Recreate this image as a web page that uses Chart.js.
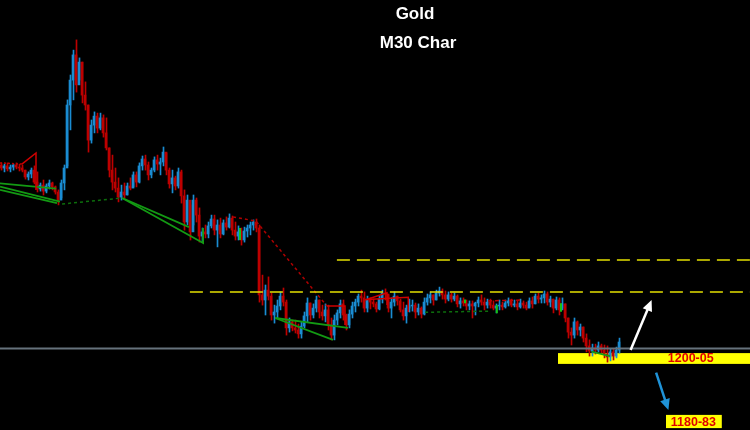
<!DOCTYPE html>
<html>
<head>
<meta charset="utf-8">
<title>Gold M30</title>
<script src="https://cdn.jsdelivr.net/npm/chart.js@4/dist/chart.umd.min.js"></script>
<style>
    html, body { margin: 0; padding: 0; background: #000; }
    #contenedor { width: 750px; height: 430px; position: relative; }
</style>
</head>
<body>
<div id="contenedor"><canvas id="grafica_oro"></canvas></div>
<script>
// Velas de 30 minutos del oro (USD). La apertura de cada vela es el cierre anterior.
var primeraApertura = 1265;
var maximos = [
    1265.7, 1265.3, 1265.7, 1265, 1265.3, 1265.7, 1265.3, 1265, 1263.3, 1262.7, 1264,
    1264.7, 1262.7, 1259, 1260, 1258.7, 1260, 1259.3, 1258, 1256.7, 1260,
    1265, 1286.7, 1295, 1303.3, 1306.7, 1300.7, 1299.3, 1292.7, 1285, 1280,
    1282.7, 1282.3, 1282.3, 1281.7, 1280.7, 1270.7, 1268.3, 1264, 1260.7, 1258.3,
    1259, 1259, 1260.7, 1262.7, 1262.7, 1265.7, 1268, 1268.3, 1266, 1264,
    1267.7, 1268.3, 1267.3, 1271, 1269, 1264, 1263.3, 1261.3, 1264, 1263.3,
    1256.7, 1255, 1251.7, 1255, 1254, 1250.7, 1244, 1245, 1246, 1248.3,
    1248.3, 1246.7, 1247.3, 1246.7, 1247.7, 1248.7, 1248, 1246, 1244.7, 1244,
    1244.3, 1245, 1246, 1246.7, 1247, 1245, 1228.3, 1225, 1227.7, 1222.3,
    1218.3, 1220, 1222.7, 1224, 1220, 1214, 1213.3, 1213.3, 1212, 1212.7,
    1216, 1220.7, 1219, 1218.7, 1221.3, 1220, 1218.3, 1218.7, 1218.3, 1214,
    1215, 1216.7, 1220, 1220, 1215.3, 1216.7, 1219.3, 1220.3, 1222, 1223.3,
    1222.7, 1221.3, 1220.7, 1220.3, 1219.3, 1221.3, 1223.3, 1223.7, 1221.7, 1220.7,
    1222.7, 1221.3, 1220.3, 1219.3, 1218.3, 1220.3, 1220, 1219, 1218.7, 1217.7,
    1220.7, 1222, 1222.7, 1221.7, 1223.3, 1224.3, 1223.7, 1223, 1222.7, 1222.3,
    1222.3, 1221.7, 1220.7, 1220.7, 1220, 1219.7, 1219.7, 1219.3, 1221, 1221.7,
    1220.7, 1220.3, 1220.3, 1219.7, 1218.7, 1220, 1219.3, 1220, 1220.7, 1220.3,
    1220, 1219.7, 1220.3, 1219.7, 1219.3, 1220.7, 1221, 1222, 1222.3, 1221.7,
    1223, 1222.7, 1221.3, 1220.3, 1221, 1220.7, 1220.7, 1218.7, 1214, 1210.7,
    1214, 1213, 1212, 1211, 1208.7, 1206.7, 1205.3, 1205.3, 1206, 1205.3,
    1205, 1204.7, 1203.7, 1203.7, 1204.3, 1207.3
];
var minimos = [
    1263.3, 1262.7, 1263, 1262.7, 1263.3, 1263.7, 1263, 1262.7, 1260.3, 1260, 1260.7,
    1258.7, 1256, 1256.3, 1255, 1255.7, 1257, 1256.7, 1255.3, 1251.7, 1254,
    1256.7, 1264.7, 1276.7, 1286.7, 1289.3, 1293.3, 1285.7, 1283.3, 1269.3, 1272.3,
    1275.7, 1275.7, 1276.7, 1274.3, 1270, 1261, 1256.7, 1256, 1252.7, 1253.3,
    1254, 1255, 1256.7, 1257.7, 1257.7, 1259, 1263.3, 1263.3, 1260, 1260.7,
    1262.7, 1263.3, 1261.7, 1264.7, 1261.7, 1257.3, 1255.7, 1256.7, 1257.3, 1252.3,
    1243.3, 1245, 1240, 1245, 1246, 1239.3, 1239.3, 1240.7, 1240.7, 1244,
    1241.7, 1237.7, 1240.7, 1241.7, 1243.3, 1244, 1241.7, 1240, 1240, 1238.3,
    1239.3, 1241, 1241.7, 1243.3, 1242.7, 1219.3, 1218.3, 1215, 1220, 1213.3,
    1212.3, 1214, 1216.7, 1218, 1208.3, 1209.3, 1209.7, 1209, 1207.3, 1207.3,
    1210.7, 1212.7, 1213.3, 1214, 1216, 1214, 1213.3, 1212.7, 1210, 1206.7,
    1206.7, 1211.7, 1214, 1213.3, 1210, 1210.7, 1214, 1216, 1218, 1219.3,
    1216, 1216, 1217, 1217.7, 1216, 1216.7, 1219, 1220, 1216, 1214,
    1218, 1218.3, 1216, 1213.3, 1212.3, 1216, 1216.3, 1214, 1215, 1214,
    1215, 1218.3, 1219, 1218.3, 1220, 1221.3, 1220.3, 1219, 1219.7, 1219.3,
    1219.7, 1217.7, 1217.3, 1218, 1216.7, 1216.7, 1214, 1215, 1217.7, 1218.3,
    1216.7, 1217.3, 1217.3, 1216.7, 1215.7, 1216.7, 1216.7, 1217.3, 1218, 1217.7,
    1217.7, 1216.7, 1217.3, 1217.3, 1216.7, 1217.7, 1217.3, 1218.7, 1219, 1219,
    1219, 1218.3, 1217.7, 1215.7, 1216.7, 1215, 1217.3, 1212.7, 1207.3, 1205,
    1207.3, 1208.3, 1208, 1206, 1202.7, 1201.3, 1201.3, 1202, 1202.7, 1202.3,
    1200.7, 1199.3, 1199.7, 1200, 1200.7, 1202.3
];
var cierres = [
    1264, 1264.7, 1263.7, 1264.3, 1265, 1264.3, 1264, 1263.3, 1261, 1262, 1263.3,
    1259.3, 1257, 1258.3, 1256.3, 1258, 1259, 1257.7, 1256, 1253.3, 1259,
    1264, 1285, 1293.3, 1301.7, 1291.7, 1299.3, 1288.3, 1285, 1273.3, 1278.3,
    1281.3, 1277.3, 1280.7, 1275.7, 1270.7, 1263.3, 1259.3, 1257.3, 1254.3, 1256,
    1255, 1258, 1257.3, 1261.7, 1259.3, 1264.7, 1267, 1265, 1261.7, 1263.3,
    1266.7, 1265.3, 1266, 1269.3, 1263.3, 1258.7, 1260.7, 1258, 1262.7, 1254.7,
    1246, 1253.3, 1242.7, 1253.3, 1248.3, 1241.3, 1242.7, 1242, 1244.7, 1247,
    1243.3, 1245, 1242, 1245.7, 1244.3, 1247.3, 1243.3, 1241.3, 1242.7, 1240,
    1243, 1244, 1245, 1246, 1244, 1221.7, 1220, 1223.3, 1221.3, 1215,
    1216, 1218, 1221.3, 1219.3, 1210.7, 1212.7, 1210.7, 1210, 1208.7, 1211.3,
    1214.7, 1219, 1215, 1217.3, 1220, 1216, 1214.7, 1216.7, 1211.7, 1208.3,
    1213.3, 1215.7, 1218.7, 1215, 1211.7, 1215.3, 1218, 1219.3, 1221.3, 1220.7,
    1217.3, 1220, 1219.3, 1218.7, 1217, 1220.3, 1222.3, 1222, 1217.3, 1219.3,
    1221.3, 1219.7, 1216.7, 1214.7, 1217.3, 1218, 1218.3, 1216, 1217.3, 1215.3,
    1219.3, 1220.7, 1221.7, 1220, 1222.3, 1223, 1221.7, 1220.3, 1221.7, 1220.3,
    1221.3, 1218.7, 1219.7, 1219, 1218, 1218.7, 1218, 1219, 1220, 1219.3,
    1218.3, 1219.3, 1218.3, 1217.3, 1218, 1218.3, 1217.7, 1219, 1219.7, 1218.3,
    1218.7, 1217.7, 1219, 1218.3, 1217.3, 1219.7, 1218.7, 1221.3, 1220.3, 1220.7,
    1222, 1219.3, 1220.3, 1217.3, 1220, 1216.7, 1218.7, 1214, 1209.3, 1208.3,
    1212.7, 1210, 1211, 1207.3, 1204.7, 1203, 1204, 1203.3, 1204.7, 1203.3,
    1202, 1201, 1202.7, 1201.3, 1203.3, 1206
];

// Trazos del indicador: cada punto es [vela, precio].
var zigzagRojo = [[7.3, 1265.3], [12, 1269], [12, 1256.7]];
var zigzagRojoInicio = [[0, 1265.7], [7.3, 1265.3]];
var tendenciasVerdes = [
    [[0, 1258.9], [18.7, 1257.1]],
    [[0, 1257.8], [20, 1252.8]],
    [[0, 1256.7], [19, 1252.3]],
    [[40.7, 1254], [63, 1244.3]],
    [[40.7, 1254], [67.7, 1239], [67.7, 1244]],
    [[91.7, 1214], [111, 1206.7]],
    [[91.7, 1214], [116, 1210.7]],
    [[197.2, 1202.8], [203.3, 1201.3]]
];
var marcasVerdes = [
    [[80, 1244], [80, 1240]],
    [[155, 1220.2], [155, 1218.9]],
    [[165.6, 1218.3], [165.6, 1215.6]],
    [[187, 1218.9], [187, 1216.1]]
];
var verdesPunteadas = [
    [[20.7, 1252], [40.7, 1254]],
    [[141.7, 1215.9], [163.3, 1216.3]]
];
var rojaPunteada = [[77.7, 1247.7], [85.3, 1246.3], [109, 1218]];
var rojasSolidas = [
    [[109, 1218], [115, 1218], [115, 1211.7]],
    [[121.7, 1220], [129, 1222.4], [129, 1218.3]],
    [[122.2, 1220.2], [136.1, 1220.9], [136.1, 1216]]
];
var rojaGuiones = [[162.7, 1219.7], [174, 1220]];

// Niveles horizontales: [vela inicial, precio].
var soporte = [0, 1203.8];
var resistencias = [[63.3, 1222.7], [112.3, 1233.3]];

// Zonas objetivo y flechas.
var zonas = [
    { desde: 186, hasta: 250, bajo: 1198.7, alto: 1202.3, texto: '1200-05', textoX: 222.6, textoY: 1200.4 },
    { desde: 222, hasta: 240.6, bajo: 1177.3, alto: 1181.7, texto: '1180-83', textoX: 223.6, textoY: 1179.2 }
];
var flechas = [
    { desde: [210.2, 1203.3], hasta: [217.2, 1220], color: '#ffffff' },
    { desde: [218.7, 1195.8], hasta: [222.8, 1183.3], color: '#1f93d8' }
];
var titulos = ['Gold', 'M30 Char'];

var AZUL = '#1a8cd2';
var ROJO = '#bd0000';
var VERDE = '#139a13';
var FUENTE = '"Liberation Sans", Arial, sans-serif';

// Aperturas y colores de cada vela.
var aperturas = [primeraApertura].concat(cierres.slice(0, -1));
var colores = cierres.map(function (c, i) {
    return c >= aperturas[i] ? AZUL : ROJO;
});

// Crea un dataset de linea a partir de una lista de puntos [vela, precio].
function getLineDataSet(puntos, color, ancho, guiones) {
    return {
        type: 'line',
        data: puntos.map(function (p) { return { x: p[0], y: p[1] }; }),
        borderColor: color,
        borderWidth: ancho,
        borderDash: guiones || [],
        pointRadius: 0,
        fill: false,
        tension: 0,
        order: 0
    };
}

var datasets = [];
// Mechas (1 px) y cuerpos (2 px) de las velas.
datasets.push({
    type: 'bar',
    data: maximos.map(function (h, i) { return { x: i + 0.5, y: [minimos[i], h] }; }),
    backgroundColor: colores,
    barThickness: 1,
    grouped: false,
    order: 3
});
datasets.push({
    type: 'bar',
    data: cierres.map(function (c, i) { return { x: i + 1 / 3, y: [aperturas[i], c] }; }),
    backgroundColor: colores,
    barThickness: 2,
    grouped: false,
    order: 2
});
datasets.push(getLineDataSet([soporte, [250, soporte[1]]], '#66727c', 2));
resistencias.forEach(function (r) {
    datasets.push(getLineDataSet([r, [250, r[1]]], '#e3e000', 1.5, [13, 7]));
});
datasets.push(getLineDataSet(zigzagRojoInicio, ROJO, 1.5, [2, 2]));
datasets.push(getLineDataSet(zigzagRojo, '#d00000', 1.5));
tendenciasVerdes.forEach(function (t) {
    datasets.push(getLineDataSet(t, VERDE, 1.8));
});
marcasVerdes.forEach(function (t) {
    datasets.push(getLineDataSet(t, '#16c416', 2));
});
verdesPunteadas.forEach(function (t) {
    datasets.push(getLineDataSet(t, '#0c6e0c', 1.5, [3, 3]));
});
datasets.push(getLineDataSet(rojaPunteada, '#b00000', 1.5, [3, 3]));
rojasSolidas.forEach(function (t) {
    datasets.push(getLineDataSet(t, '#d00000', 1.5));
});
datasets.push(getLineDataSet(rojaGuiones, '#c00000', 1.5, [4, 3]));

// Fondo negro, zonas amarillas, flechas y titulos.
var decorado = {
    id: 'decorado',
    beforeDraw: function (chart) {
        var ctx = chart.ctx;
        ctx.save();
        ctx.fillStyle = '#000';
        ctx.fillRect(0, 0, chart.width, chart.height);
        ctx.restore();
    },
    beforeDatasetsDraw: function (chart) {
        var ctx = chart.ctx, x = chart.scales.x, y = chart.scales.y;
        ctx.save();
        ctx.fillStyle = '#ffff00';
        zonas.forEach(function (z) {
            var x0 = x.getPixelForValue(z.desde), x1 = x.getPixelForValue(z.hasta);
            var y0 = y.getPixelForValue(z.alto), y1 = y.getPixelForValue(z.bajo);
            ctx.fillRect(x0, y0, x1 - x0, y1 - y0);
        });
        ctx.restore();
    },
    afterDatasetsDraw: function (chart) {
        var ctx = chart.ctx, x = chart.scales.x, y = chart.scales.y;
        ctx.save();
        ctx.font = 'bold 12.5px ' + FUENTE;
        ctx.fillStyle = '#e00000';
        ctx.textBaseline = 'middle';
        ctx.textAlign = 'left';
        zonas.forEach(function (z) {
            ctx.fillText(z.texto, x.getPixelForValue(z.textoX), y.getPixelForValue(z.textoY));
        });
        flechas.forEach(function (f) {
            var ax = x.getPixelForValue(f.desde[0]), ay = y.getPixelForValue(f.desde[1]);
            var bx = x.getPixelForValue(f.hasta[0]), by = y.getPixelForValue(f.hasta[1]);
            var ang = Math.atan2(by - ay, bx - ax);
            ctx.strokeStyle = f.color;
            ctx.fillStyle = f.color;
            ctx.lineWidth = 2.5;
            ctx.beginPath();
            ctx.moveTo(ax, ay);
            ctx.lineTo(bx - 6 * Math.cos(ang), by - 6 * Math.sin(ang));
            ctx.stroke();
            ctx.beginPath();
            ctx.moveTo(bx, by);
            ctx.lineTo(bx - 11 * Math.cos(ang) + 5 * Math.sin(ang), by - 11 * Math.sin(ang) - 5 * Math.cos(ang));
            ctx.lineTo(bx - 11 * Math.cos(ang) - 5 * Math.sin(ang), by - 11 * Math.sin(ang) + 5 * Math.cos(ang));
            ctx.closePath();
            ctx.fill();
        });
        ctx.fillStyle = '#ffffff';
        ctx.textAlign = 'center';
        ctx.textBaseline = 'alphabetic';
        ctx.font = 'bold 17px ' + FUENTE;
        ctx.fillText(titulos[0], 415, 18.5);
        ctx.fillText(titulos[1], 418, 47.5);
        ctx.restore();
    }
};

var chart = new Chart(document.getElementById('grafica_oro').getContext('2d'), {
    type: 'bar',
    data: { datasets: datasets },
    options: {
        responsive: true,
        maintainAspectRatio: false,
        animation: false,
        layout: { padding: 0 },
        plugins: { legend: { display: false }, tooltip: { enabled: false }, title: { display: false } },
        scales: {
            x: { type: 'linear', min: 0, max: 250, offset: false, display: false },
            y: { type: 'linear', min: 1320 - 430 / 3, max: 1320, display: false }
        }
    },
    plugins: [decorado]
});
</script>
</body>
</html>
